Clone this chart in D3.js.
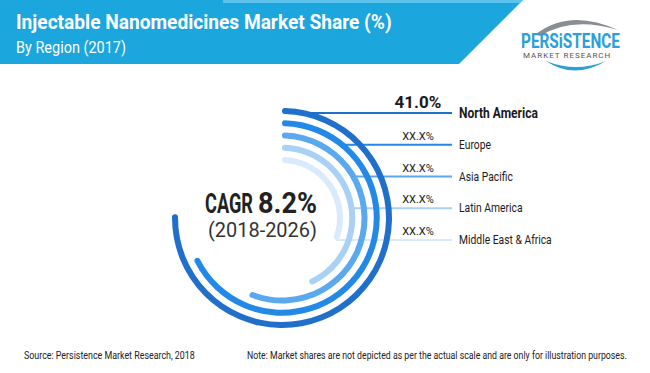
<!DOCTYPE html>
<html>
<head>
<meta charset="utf-8">
<script src="https://cdn.jsdelivr.net/npm/d3@7"></script>
<style>
  html, body { margin: 0; padding: 0; background: #fff; }
  svg { display: block; font-family: Roboto, "Noto Sans", sans-serif; }
</style>
</head>
<body>
<div id="chart"></div>
<script>
"use strict";

// chart values
const regions = ["North America", "Europe", "Asia Pacific", "Latin America", "Middle East & Africa"];
const shareLabels = ["41.0%", "XX.X%", "XX.X%", "XX.X%", "XX.X%"];
// arcs are not to scale (see note), sweep read off the picture in degrees
const arcSweep = [272, 245, 203, 157, 112];
const cagrValue = "8.2%";
const cagrPeriod = "(2018-2026)";

const title = "Injectable Nanomedicines Market Share (%)";
const subtitle = "By Region (2017)";
const source = "Source: Persistence Market Research, 2018";
const note = "Note: Market shares are not depicted as per the actual scale and are only for illustration purposes.";

const colors = ["#1f6fcb", "#2389e6", "#5aa8ee", "#a9d1f5", "#d8eafb"];

const W = 650, H = 373;
const cx = 282, cy = 218;

let svg = d3.select('#chart').append('svg')
  .attr('width', W)
  .attr('height', H);

// the reference uses a condensed face: squeeze horizontally with a transform
// width = target width in px, or k = fixed factor
function squeezed(parent, x, y, str, width, k)
{
  let t = parent.append('text').text(str);
  if (width)
  {
    k = Math.min(1, width / t.node().getComputedTextLength());
  }
  t.attr('transform', `translate(${x},${y}) scale(${k || 1},1)`);
  return t;
}

// header banner
svg.append('polygon')
  .attr('points', '0,0 523,0 459,64 0,64')
  .attr('fill', '#1ba6dd');
svg.append('polygon')
  .attr('points', '223,0 523,0 520,3 223,3')
  .attr('fill', '#5cc2ec');

let head = svg.append('g').attr('fill', '#fff');
squeezed(head.append('g').attr('font-size', 21).attr('font-weight', 700), 16, 29, title, 376);
squeezed(head.append('g').attr('font-size', 16), 16, 53, subtitle, 110);

// logo
let logo = svg.append('g');
logo.append('path')
  .attr('d', 'M536,34 Q570,8 618,30 Q572,16 540,36 Z')
  .attr('fill', '#8a8d91');
logo.append('path')
  .attr('d', 'M546,61 Q574,80 606,61 Q576,73 546,61 Z')
  .attr('fill', '#2b9fd9');
squeezed(logo.append('g').attr('fill', '#2b9fd9').attr('font-size', 20).attr('font-weight', 700),
  521, 48, 'PERSiSTENCE', 99);
squeezed(logo.append('g').attr('fill', '#555').attr('font-size', 8).attr('letter-spacing', 1),
  523, 58, 'MARKET RESEARCH', 95);

// arcs and leader lines
let rScale = d3.scalePoint()
  .domain(regions)
  .range([107, 58]);

let yScale = d3.scalePoint()
  .domain(regions)
  .range([113, 240]);

let angle = d3.scaleLinear()
  .domain([0, 360])
  .range([0, 2 * Math.PI]);

let rows = regions.map((name, i) => ({
  name: name,
  label: shareLabels[i],
  sweep: arcSweep[i],
  color: colors[i],
  r: rScale(name),
  y: yScale(name),
  i: i
}));

let lineEnd = 452;

svg.append('g')
  .selectAll('line')
  .data(rows)
  .enter()
  .append('line')
  .attr('x1', d => cx + Math.sqrt(Math.max(0, d.r * d.r - (d.y - cy) * (d.y - cy))))
  .attr('x2', lineEnd)
  .attr('y1', d => d.y)
  .attr('y2', d => d.y)
  .attr('stroke', d => d.color)
  .attr('stroke-width', 2);

let arc = d3.arc()
  .innerRadius(d => d.r - 3)
  .outerRadius(d => d.r + 3)
  .startAngle(0)
  .endAngle(d => angle(d.sweep))
  .cornerRadius(3);

svg.append('g')
  .attr('transform', `translate(${cx},${cy})`)
  .selectAll('path')
  .data(rows)
  .enter()
  .append('path')
  .attr('d', arc)
  .attr('fill', d => d.color);

// value labels above lines
svg.append('g')
  .selectAll('text')
  .data(rows)
  .enter()
  .append('text')
  .attr('x', 418)
  .attr('y', d => d.y - 5)
  .attr('text-anchor', 'middle')
  .attr('fill', '#1a1a1a')
  .attr('font-size', d => d.i === 0 ? 17 : 11)
  .attr('font-weight', d => d.i === 0 ? 700 : 400)
  .text(d => d.label);

// region names
let names = svg.append('g').attr('fill', '#1a1a1a');
rows.forEach(d => {
  let g = names.append('g')
    .attr('font-size', d.i === 0 ? 14 : 12)
    .attr('font-weight', d.i === 0 ? 700 : 400);
  squeezed(g, 459, d.y + (d.i === 0 ? 5 : 4), d.name, null, 0.86);
});

// CAGR in the middle
let mid = svg.append('g');
squeezed(mid.append('g').attr('fill', '#222').attr('font-size', 27).attr('font-weight', 700),
  205, 213, 'CAGR', 48);
squeezed(mid.append('g').attr('fill', '#222').attr('font-size', 30).attr('font-weight', 700),
  258, 213, cagrValue, 59);
squeezed(mid.append('g').attr('fill', '#333').attr('font-size', 21),
  208, 237, cagrPeriod, 109);

// footer
let foot = svg.append('g').attr('fill', '#222').attr('font-size', 11);
squeezed(foot, 24, 359, source, 171);
squeezed(foot, 247, 359, note, 380);
</script>
</body>
</html>
